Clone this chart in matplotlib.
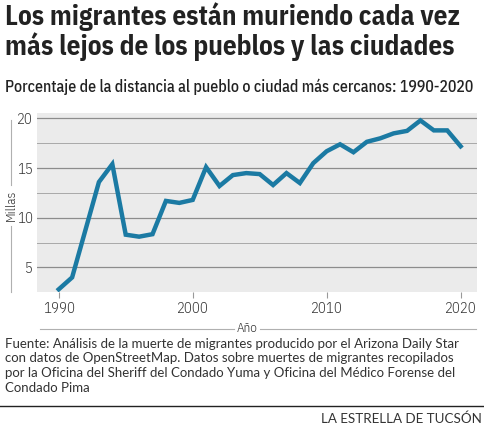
import matplotlib.pyplot as plt
from matplotlib.lines import Line2D
from matplotlib.ticker import MultipleLocator

years = list(range(1990, 2021))
millas = [2.8, 4.0, 8.8, 13.6, 15.4, 8.3, 8.1, 8.35, 11.7, 11.5, 11.8,
          15.1, 13.2, 14.3, 14.5, 14.4, 13.3, 14.5, 13.5, 15.5, 16.7,
          17.4, 16.6, 17.65, 18.0, 18.5, 18.75, 19.8, 18.8, 18.8, 17.2]
xticks = [1990, 2000, 2010, 2020]
yticks = [5, 10, 15, 20]

titulo = "Los migrantes están muriendo cada vez\nmás lejos de los pueblos y las ciudades"
subtitulo = "Porcentaje de la distancia al pueblo o ciudad más cercanos: 1990-2020"
fuente = ("Fuente: Análisis de la muerte de migrantes producido por el Arizona Daily Star\n"
          "con datos de OpenStreetMap. Datos sobre muertes de migrantes recopilados\n"
          "por la Oficina del Sheriff del Condado Yuma y Oficina del Médico Forense del\n"
          "Condado Pima")
credito = "LA ESTRELLA DE TUCSÓN"

cond = ["IBM Plex Sans Condensed", "DejaVu Sans"]
texto = ["Lato", "DejaVu Sans"]
W, H = 484, 428

fig = plt.figure(figsize=(W / 100, H / 100), dpi=100)
ax = fig.add_axes([37.3 / W, 1 - 292.3 / H, (476.7 - 37.3) / W, (292.3 - 113) / H])
ax.set_facecolor("#ebebeb")

ax.plot(years, millas, color="#1b7aa3", lw=3.2, solid_joinstyle="miter", zorder=3)

ax.set_xlim(1988.4, 2021.2)
ax.set_ylim(2.5, 20.55)
ax.set_xticks(xticks)
ax.set_yticks(yticks)
ax.yaxis.set_minor_locator(MultipleLocator(2.5))
ax.grid(axis="y", which="major", color="#8c8c8c", lw=0.9)
ax.grid(axis="y", which="minor", color="#a8a8a8", lw=0.7)
ax.set_axisbelow(True)
for s in ax.spines.values():
    s.set_visible(False)
ax.tick_params(axis="y", which="both", length=0, pad=3, labelsize=10.5, labelcolor="#333333")
ax.tick_params(axis="x", length=4, width=0.8, color="#999999", pad=3, labelsize=10.5,
               labelcolor="#333333")
for lab in ax.get_xticklabels() + ax.get_yticklabels():
    lab.set_family(cond)
    lab.set_fontweight(300)

# lineas decorativas junto a los titulos de los ejes
fig.add_artist(Line2D([11 / W, 11 / W], [1 - 120 / H, 1 - 185 / H], color="#b0b0b0", lw=0.8))
fig.add_artist(Line2D([11 / W, 11 / W], [1 - 226 / H, 1 - 292 / H], color="#b0b0b0", lw=0.8))
fig.text(11 / W, 1 - 205 / H, "Millas", rotation=90, ha="center", va="center",
         fontsize=9.5, fontweight=300, color="#333333", family=cond)
fig.add_artist(Line2D([40 / W, 234 / W], [1 - 329 / H, 1 - 329 / H], color="#b0b0b0", lw=0.8))
fig.add_artist(Line2D([260 / W, 476 / W], [1 - 329 / H, 1 - 329 / H], color="#b0b0b0", lw=0.8))
fig.text(247 / W, 1 - 328 / H, "Año", ha="center", va="center",
         fontsize=9.5, fontweight=300, color="#333333", family=cond)

fig.text(5 / W, 1 - 2 / H, titulo, ha="left", va="top", fontsize=19.5, fontweight="bold",
         color="#222222", family=cond, linespacing=1.05)
fig.text(5 / W, 1 - 87 / H, subtitulo, ha="left", va="center", fontsize=11.4,
         fontweight=500, color="#222222", family=cond)
fig.text(5 / W, 1 - 338 / H, fuente, ha="left", va="top", fontsize=9.5,
         color="#333333", family=texto, linespacing=1.25)
fig.add_artist(Line2D([0, 1], [1 - 406 / H, 1 - 406 / H], color="#222222", lw=1.0))
fig.text(482 / W, 1 - 419 / H, credito, ha="right", va="center", fontsize=9.6,
         color="#333333", family=texto)

fig.savefig("out.png", dpi=100)
